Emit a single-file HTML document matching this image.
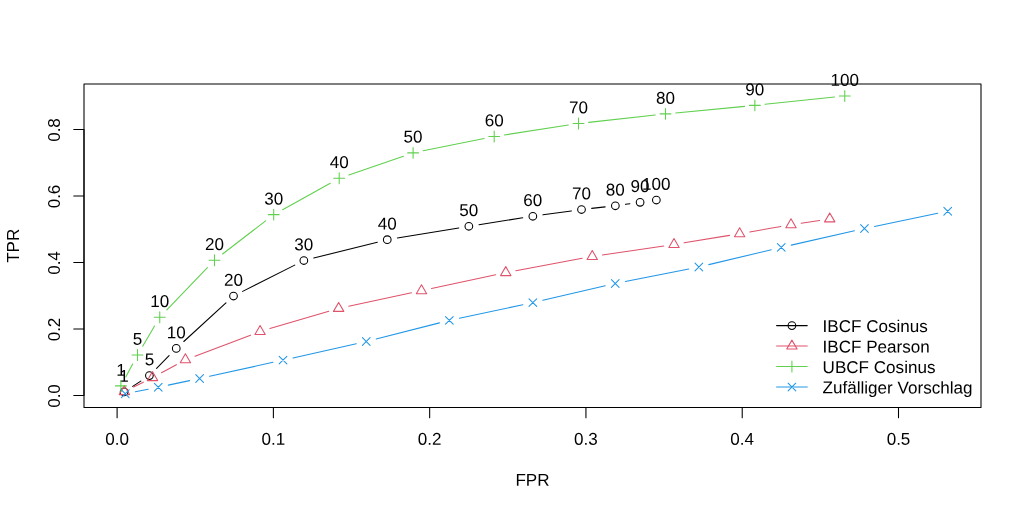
<!DOCTYPE html>
<html lang="de">
<head>
<meta charset="utf-8">
<title>ROC: TPR / FPR</title>
<style>
html,body{margin:0;padding:0;background:#fff;}
body{width:1024px;height:512px;overflow:hidden;}
svg{display:block;}
</style>
</head>
<body>
<svg width="1024" height="512" viewBox="0 0 1024 512" font-family="'Liberation Sans', Arial, Helvetica, sans-serif" font-size="17.07px" fill="#000">
<rect width="1024" height="512" fill="#fff"/>
<g class="curve-k">
<path d="M132.71 386.35L140.79 381.15M156.59 368.31L169.06 355.69M183.8 341.49L225.95 302.91M242.64 291.39L294.71 265.11M313.79 258.02L377.31 242.18M397.35 238.03L458.75 227.92M478.97 224.67L522.73 217.83M542.99 214.84L571.36 210.91M591.68 208.37L605.17 206.88M625.49 204.34L629.96 203.71" stroke="#000000" stroke-width="1.07" fill="none" stroke-linecap="round"/>
<circle cx="124.1" cy="391.9" r="3.84" stroke="#000000" stroke-width="1.07" fill="none" stroke-linecap="round" stroke-linejoin="round"/>
<circle cx="149.4" cy="375.6" r="3.84" stroke="#000000" stroke-width="1.07" fill="none" stroke-linecap="round" stroke-linejoin="round"/>
<circle cx="176.25" cy="348.4" r="3.84" stroke="#000000" stroke-width="1.07" fill="none" stroke-linecap="round" stroke-linejoin="round"/>
<circle cx="233.5" cy="296" r="3.84" stroke="#000000" stroke-width="1.07" fill="none" stroke-linecap="round" stroke-linejoin="round"/>
<circle cx="303.85" cy="260.5" r="3.84" stroke="#000000" stroke-width="1.07" fill="none" stroke-linecap="round" stroke-linejoin="round"/>
<circle cx="387.25" cy="239.7" r="3.84" stroke="#000000" stroke-width="1.07" fill="none" stroke-linecap="round" stroke-linejoin="round"/>
<circle cx="468.85" cy="226.25" r="3.84" stroke="#000000" stroke-width="1.07" fill="none" stroke-linecap="round" stroke-linejoin="round"/>
<circle cx="532.85" cy="216.25" r="3.84" stroke="#000000" stroke-width="1.07" fill="none" stroke-linecap="round" stroke-linejoin="round"/>
<circle cx="581.5" cy="209.5" r="3.84" stroke="#000000" stroke-width="1.07" fill="none" stroke-linecap="round" stroke-linejoin="round"/>
<circle cx="615.35" cy="205.75" r="3.84" stroke="#000000" stroke-width="1.07" fill="none" stroke-linecap="round" stroke-linejoin="round"/>
<circle cx="640.1" cy="202.3" r="3.84" stroke="#000000" stroke-width="1.07" fill="none" stroke-linecap="round" stroke-linejoin="round"/>
<circle cx="656.35" cy="200" r="3.84" stroke="#000000" stroke-width="1.07" fill="none" stroke-linecap="round" stroke-linejoin="round"/>
<text transform="translate(124.10 381.66) rotate(0.03)" text-anchor="middle">1</text>
<text transform="translate(149.40 365.36) rotate(0.03)" text-anchor="middle">5</text>
<text transform="translate(176.25 338.16) rotate(0.03)" text-anchor="middle">10</text>
<text transform="translate(233.50 285.76) rotate(0.03)" text-anchor="middle">20</text>
<text transform="translate(303.85 250.26) rotate(0.03)" text-anchor="middle">30</text>
<text transform="translate(387.25 229.46) rotate(0.03)" text-anchor="middle">40</text>
<text transform="translate(468.85 216.01) rotate(0.03)" text-anchor="middle">50</text>
<text transform="translate(532.85 206.01) rotate(0.03)" text-anchor="middle">60</text>
<text transform="translate(581.50 199.26) rotate(0.03)" text-anchor="middle">70</text>
<text transform="translate(615.35 195.51) rotate(0.03)" text-anchor="middle">80</text>
<text transform="translate(640.10 192.06) rotate(0.03)" text-anchor="middle">90</text>
<text transform="translate(656.35 189.76) rotate(0.03)" text-anchor="middle">100</text>
</g>
<g class="curve-r">
<path d="M133.57 387.03L143.33 382.17M161.51 372.73L176.39 364.67M194.98 356.17L250.52 335.13M269.92 328.61L328.83 311.29M348.66 306.26L411.49 292.84M431.51 288.55L495.74 274.75M515.82 270.72L582.18 258.33M602.38 254.97L663.87 245.98M684.1 242.84L729.55 235.36M749.74 231.95L780.91 226.55M801.12 223.26L819.63 220.44" stroke="#DF536B" stroke-width="1.07" fill="none" stroke-linecap="round"/>
<path d="M124.4 385.63L129.57 394.59L119.23 394.59Z" stroke="#DF536B" stroke-width="1.07" fill="none" stroke-linecap="round" stroke-linejoin="round"/>
<path d="M152.5 371.63L157.67 380.59L147.33 380.59Z" stroke="#DF536B" stroke-width="1.07" fill="none" stroke-linecap="round" stroke-linejoin="round"/>
<path d="M185.4 353.83L190.57 362.79L180.23 362.79Z" stroke="#DF536B" stroke-width="1.07" fill="none" stroke-linecap="round" stroke-linejoin="round"/>
<path d="M260.1 325.53L265.27 334.49L254.93 334.49Z" stroke="#DF536B" stroke-width="1.07" fill="none" stroke-linecap="round" stroke-linejoin="round"/>
<path d="M338.65 302.43L343.82 311.39L333.48 311.39Z" stroke="#DF536B" stroke-width="1.07" fill="none" stroke-linecap="round" stroke-linejoin="round"/>
<path d="M421.5 284.73L426.67 293.69L416.33 293.69Z" stroke="#DF536B" stroke-width="1.07" fill="none" stroke-linecap="round" stroke-linejoin="round"/>
<path d="M505.75 266.63L510.92 275.59L500.58 275.59Z" stroke="#DF536B" stroke-width="1.07" fill="none" stroke-linecap="round" stroke-linejoin="round"/>
<path d="M592.25 250.48L597.42 259.44L587.08 259.44Z" stroke="#DF536B" stroke-width="1.07" fill="none" stroke-linecap="round" stroke-linejoin="round"/>
<path d="M674 238.53L679.17 247.49L668.83 247.49Z" stroke="#DF536B" stroke-width="1.07" fill="none" stroke-linecap="round" stroke-linejoin="round"/>
<path d="M739.65 227.73L744.82 236.69L734.48 236.69Z" stroke="#DF536B" stroke-width="1.07" fill="none" stroke-linecap="round" stroke-linejoin="round"/>
<path d="M791 218.83L796.17 227.79L785.83 227.79Z" stroke="#DF536B" stroke-width="1.07" fill="none" stroke-linecap="round" stroke-linejoin="round"/>
<path d="M829.75 212.93L834.92 221.89L824.58 221.89Z" stroke="#DF536B" stroke-width="1.07" fill="none" stroke-linecap="round" stroke-linejoin="round"/>
</g>
<g class="curve-g">
<path d="M125.75 376.88L132.65 364.02M142.7 346.18L154.55 326.07M166.84 309.86L207.41 267.64M222.61 254L265.59 220.9M282.65 209.68L330.25 183.27M348.88 174.97L403.42 156.18M423.14 150.83L484.16 138.57M504.32 134.98L568.38 125.07M588.68 122.38L655.32 115.02M675.69 112.93L744.66 106.37M765.03 104.34L834.57 97.06" stroke="#61D04F" stroke-width="1.07" fill="none" stroke-linecap="round"/>
<path d="M115.47 385.9H126.33M120.9 380.47V391.33" stroke="#61D04F" stroke-width="1.07" fill="none" stroke-linecap="round" stroke-linejoin="round"/>
<path d="M132.07 355H142.93M137.5 349.57V360.43" stroke="#61D04F" stroke-width="1.07" fill="none" stroke-linecap="round" stroke-linejoin="round"/>
<path d="M154.32 317.25H165.18M159.75 311.82V322.68" stroke="#61D04F" stroke-width="1.07" fill="none" stroke-linecap="round" stroke-linejoin="round"/>
<path d="M209.07 260.25H219.93M214.5 254.82V265.68" stroke="#61D04F" stroke-width="1.07" fill="none" stroke-linecap="round" stroke-linejoin="round"/>
<path d="M268.27 214.65H279.13M273.7 209.22V220.08" stroke="#61D04F" stroke-width="1.07" fill="none" stroke-linecap="round" stroke-linejoin="round"/>
<path d="M333.77 178.3H344.63M339.2 172.87V183.73" stroke="#61D04F" stroke-width="1.07" fill="none" stroke-linecap="round" stroke-linejoin="round"/>
<path d="M407.67 152.85H418.53M413.1 147.42V158.28" stroke="#61D04F" stroke-width="1.07" fill="none" stroke-linecap="round" stroke-linejoin="round"/>
<path d="M488.77 136.55H499.63M494.2 131.12V141.98" stroke="#61D04F" stroke-width="1.07" fill="none" stroke-linecap="round" stroke-linejoin="round"/>
<path d="M573.07 123.5H583.93M578.5 118.07V128.93" stroke="#61D04F" stroke-width="1.07" fill="none" stroke-linecap="round" stroke-linejoin="round"/>
<path d="M660.07 113.9H670.93M665.5 108.47V119.33" stroke="#61D04F" stroke-width="1.07" fill="none" stroke-linecap="round" stroke-linejoin="round"/>
<path d="M749.42 105.4H760.28M754.85 99.97V110.83" stroke="#61D04F" stroke-width="1.07" fill="none" stroke-linecap="round" stroke-linejoin="round"/>
<path d="M839.32 96H850.18M844.75 90.57V101.43" stroke="#61D04F" stroke-width="1.07" fill="none" stroke-linecap="round" stroke-linejoin="round"/>
<text transform="translate(120.90 375.66) rotate(0.03)" text-anchor="middle">1</text>
<text transform="translate(137.50 344.76) rotate(0.03)" text-anchor="middle">5</text>
<text transform="translate(159.75 307.01) rotate(0.03)" text-anchor="middle">10</text>
<text transform="translate(214.50 250.01) rotate(0.03)" text-anchor="middle">20</text>
<text transform="translate(273.70 204.41) rotate(0.03)" text-anchor="middle">30</text>
<text transform="translate(339.20 168.06) rotate(0.03)" text-anchor="middle">40</text>
<text transform="translate(413.10 142.61) rotate(0.03)" text-anchor="middle">50</text>
<text transform="translate(494.20 126.31) rotate(0.03)" text-anchor="middle">60</text>
<text transform="translate(578.50 113.26) rotate(0.03)" text-anchor="middle">70</text>
<text transform="translate(665.50 103.66) rotate(0.03)" text-anchor="middle">80</text>
<text transform="translate(754.85 95.16) rotate(0.03)" text-anchor="middle">90</text>
<text transform="translate(844.75 85.76) rotate(0.03)" text-anchor="middle">100</text>
</g>
<g class="curve-b">
<path d="M135.3 391.77L148.2 389.23M168.27 385.13L189.58 380.62M209.6 376.3L273 362.35M292.99 357.91L356.26 343.74M376.17 338.97L439.43 322.88M459.37 318.22L522.83 304.73M542.83 300.29L605.27 285.81M625.3 281.52L688.8 268.98M708.81 264.63L771.29 249.77M791.24 245.13L854.46 230.77M874.48 226.42L937.67 213.33" stroke="#2297E6" stroke-width="1.07" fill="none" stroke-linecap="round"/>
<path d="M121.41 389.91L129.09 397.59M121.41 397.59L129.09 389.91" stroke="#2297E6" stroke-width="1.07" fill="none" stroke-linecap="round" stroke-linejoin="round"/>
<path d="M154.41 383.41L162.09 391.09M154.41 391.09L162.09 383.41" stroke="#2297E6" stroke-width="1.07" fill="none" stroke-linecap="round" stroke-linejoin="round"/>
<path d="M195.76 374.66L203.44 382.34M195.76 382.34L203.44 374.66" stroke="#2297E6" stroke-width="1.07" fill="none" stroke-linecap="round" stroke-linejoin="round"/>
<path d="M279.16 356.31L286.84 363.99M279.16 363.99L286.84 356.31" stroke="#2297E6" stroke-width="1.07" fill="none" stroke-linecap="round" stroke-linejoin="round"/>
<path d="M362.41 337.66L370.09 345.34M362.41 345.34L370.09 337.66" stroke="#2297E6" stroke-width="1.07" fill="none" stroke-linecap="round" stroke-linejoin="round"/>
<path d="M445.51 316.51L453.19 324.19M445.51 324.19L453.19 316.51" stroke="#2297E6" stroke-width="1.07" fill="none" stroke-linecap="round" stroke-linejoin="round"/>
<path d="M529.01 298.76L536.69 306.44M529.01 306.44L536.69 298.76" stroke="#2297E6" stroke-width="1.07" fill="none" stroke-linecap="round" stroke-linejoin="round"/>
<path d="M611.41 279.66L619.09 287.34M611.41 287.34L619.09 279.66" stroke="#2297E6" stroke-width="1.07" fill="none" stroke-linecap="round" stroke-linejoin="round"/>
<path d="M695.01 263.16L702.69 270.84M695.01 270.84L702.69 263.16" stroke="#2297E6" stroke-width="1.07" fill="none" stroke-linecap="round" stroke-linejoin="round"/>
<path d="M777.41 243.56L785.09 251.24M777.41 251.24L785.09 243.56" stroke="#2297E6" stroke-width="1.07" fill="none" stroke-linecap="round" stroke-linejoin="round"/>
<path d="M860.61 224.66L868.29 232.34M860.61 232.34L868.29 224.66" stroke="#2297E6" stroke-width="1.07" fill="none" stroke-linecap="round" stroke-linejoin="round"/>
<path d="M943.86 207.41L951.54 215.09M943.86 215.09L951.54 207.41" stroke="#2297E6" stroke-width="1.07" fill="none" stroke-linecap="round" stroke-linejoin="round"/>
</g>
<path d="M117.1 407.5H898.5M117.1 407.5v10.24M273.38 407.5v10.24M429.66 407.5v10.24M585.94 407.5v10.24M742.22 407.5v10.24M898.5 407.5v10.24" stroke="#000" stroke-width="1.07" fill="none" stroke-linecap="round" stroke-linejoin="round"/>
<text transform="translate(117.10 444.80) rotate(0.03)" text-anchor="middle">0.0</text>
<text transform="translate(273.38 444.80) rotate(0.03)" text-anchor="middle">0.1</text>
<text transform="translate(429.66 444.80) rotate(0.03)" text-anchor="middle">0.2</text>
<text transform="translate(585.94 444.80) rotate(0.03)" text-anchor="middle">0.3</text>
<text transform="translate(742.22 444.80) rotate(0.03)" text-anchor="middle">0.4</text>
<text transform="translate(898.50 444.80) rotate(0.03)" text-anchor="middle">0.5</text>
<path d="M84.0 395.5V129.5M84.0 395.5h-10.24M84.0 329h-10.24M84.0 262.5h-10.24M84.0 196h-10.24M84.0 129.5h-10.24" stroke="#000" stroke-width="1.07" fill="none" stroke-linecap="round" stroke-linejoin="round"/>
<text transform="translate(59.77 396) rotate(-90)" text-anchor="middle">0.0</text>
<text transform="translate(59.77 329.5) rotate(-90)" text-anchor="middle">0.2</text>
<text transform="translate(59.77 263) rotate(-90)" text-anchor="middle">0.4</text>
<text transform="translate(59.77 196.5) rotate(-90)" text-anchor="middle">0.6</text>
<text transform="translate(59.77 130) rotate(-90)" text-anchor="middle">0.8</text>
<rect x="84.0" y="84.0" width="897.0" height="323.5" stroke="#000" stroke-width="1.07" fill="none" stroke-linecap="round" stroke-linejoin="round"/>
<text transform="translate(532.50 485.80) rotate(0.03)" text-anchor="middle">FPR</text>
<text transform="translate(18.81 245.75) rotate(-90)" text-anchor="middle">TPR</text>
<g class="legend">
<path d="M776.6 325.6H807.25" stroke="#000000" stroke-width="1.07" stroke-linecap="round"/>
<circle cx="791.92" cy="325.6" r="3.84" stroke="#000000" stroke-width="1.07" fill="none" stroke-linecap="round" stroke-linejoin="round"/>
<text transform="translate(822.60 331.92) rotate(0.03)">IBCF Cosinus</text>
<path d="M776.6 346.08H807.25" stroke="#DF536B" stroke-width="1.07" stroke-linecap="round"/>
<path d="M791.92 340.11L797.1 349.07L786.75 349.07Z" stroke="#DF536B" stroke-width="1.07" fill="none" stroke-linecap="round" stroke-linejoin="round"/>
<text transform="translate(822.60 352.40) rotate(0.03)">IBCF Pearson</text>
<path d="M776.6 366.56H807.25" stroke="#61D04F" stroke-width="1.07" stroke-linecap="round"/>
<path d="M786.49 366.56H797.36M791.92 361.13V371.99" stroke="#61D04F" stroke-width="1.07" fill="none" stroke-linecap="round" stroke-linejoin="round"/>
<text transform="translate(822.60 372.88) rotate(0.03)">UBCF Cosinus</text>
<path d="M776.6 387.04H807.25" stroke="#2297E6" stroke-width="1.07" stroke-linecap="round"/>
<path d="M788.08 383.2L795.76 390.88M788.08 390.88L795.76 383.2" stroke="#2297E6" stroke-width="1.07" fill="none" stroke-linecap="round" stroke-linejoin="round"/>
<text transform="translate(822.60 393.36) rotate(0.03)">Zufälliger Vorschlag</text>
</g>
</svg>
</body>
</html>
